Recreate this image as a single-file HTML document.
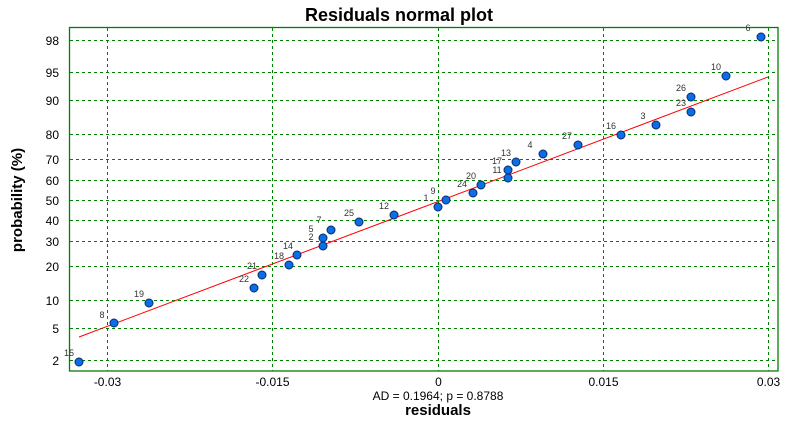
<!DOCTYPE html>
<html><head><style>body{margin:0;background:#fff}svg{display:block}</style></head><body>
<svg width="799" height="423" xmlns="http://www.w3.org/2000/svg" font-family="Liberation Sans, sans-serif">
<rect width="799" height="423" fill="#fff"/>
<text x="399" y="21" font-size="18" font-weight="bold" text-anchor="middle">Residuals normal plot</text>
<g stroke="#008000" stroke-dasharray="3,3" stroke-width="1">
<line x1="70" x2="778" y1="40.5" y2="40.5"/><line x1="70" x2="778" y1="72.5" y2="72.5"/>
<line x1="70" x2="778" y1="100.5" y2="100.5"/><line x1="70" x2="778" y1="134.5" y2="134.5"/>
<line x1="70" x2="778" y1="159.5" y2="159.5"/><line x1="70" x2="778" y1="180.5" y2="180.5"/>
<line x1="70" x2="778" y1="200.5" y2="200.5"/><line x1="70" x2="778" y1="220.5" y2="220.5"/>
<line x1="70" x2="778" y1="241.5" y2="241.5"/><line x1="70" x2="778" y1="266.5" y2="266.5"/>
<line x1="70" x2="778" y1="300.5" y2="300.5"/><line x1="70" x2="778" y1="328.5" y2="328.5"/>
<line x1="70" x2="778" y1="360.5" y2="360.5"/>
<line x1="107.5" x2="107.5" y1="28" y2="371"/><line x1="272.5" x2="272.5" y1="28" y2="371"/>
<line x1="438.5" x2="438.5" y1="28" y2="371"/><line x1="603.5" x2="603.5" y1="28" y2="371"/>
<line x1="768.5" x2="768.5" y1="28" y2="371"/>
</g>
<rect x="69.5" y="27.5" width="708.5" height="343.5" fill="none" stroke="#008000" stroke-width="1.3"/>
<g font-size="12" text-anchor="end">
<text x="59" y="45">98</text><text x="59" y="77">95</text><text x="59" y="105">90</text><text x="59" y="139">80</text>
<text x="59" y="164">70</text><text x="59" y="185">60</text><text x="59" y="205">50</text><text x="59" y="225">40</text>
<text x="59" y="246">30</text><text x="59" y="271">20</text><text x="59" y="305">10</text><text x="59" y="333">5</text><text x="59" y="365">2</text>
</g>
<g font-size="12" text-anchor="middle">
<text x="107.5" y="386">-0.03</text><text x="272.5" y="386">-0.015</text><text x="438.5" y="386">0</text>
<text x="603.5" y="386">0.015</text><text x="768.5" y="386">0.03</text>
<text x="438" y="400">AD = 0.1964; p = 0.8788</text>
</g>
<text x="438" y="415" font-size="15" font-weight="bold" text-anchor="middle">residuals</text>
<text transform="translate(22,200) rotate(-90)" font-size="15" font-weight="bold" text-anchor="middle">probability (%)</text>
<line x1="79" y1="337" x2="768" y2="77" stroke="#ff0000" stroke-width="1"/>
<g fill="#0a6ee6" stroke="#0a2a6a" stroke-width="1">
<circle cx="79" cy="362" r="4"/><circle cx="114" cy="323" r="4"/><circle cx="149" cy="303" r="4"/>
<circle cx="254" cy="288" r="4"/><circle cx="262" cy="275" r="4"/><circle cx="289" cy="265" r="4"/>
<circle cx="297" cy="255" r="4"/><circle cx="323" cy="246" r="4"/><circle cx="323" cy="238" r="4"/>
<circle cx="331" cy="230" r="4"/><circle cx="359" cy="222" r="4"/><circle cx="394" cy="215" r="4"/>
<circle cx="438" cy="207" r="4"/><circle cx="446" cy="200" r="4"/><circle cx="473" cy="193" r="4"/>
<circle cx="481" cy="185" r="4"/><circle cx="508" cy="178" r="4"/><circle cx="508" cy="170" r="4"/>
<circle cx="516" cy="162" r="4"/><circle cx="543" cy="154" r="4"/><circle cx="578" cy="145" r="4"/>
<circle cx="621" cy="135" r="4"/><circle cx="656" cy="125" r="4"/><circle cx="691" cy="112" r="4"/>
<circle cx="691" cy="97" r="4"/><circle cx="726" cy="76" r="4"/><circle cx="761" cy="37" r="4"/>
</g>
<g font-size="9" fill="#333" text-anchor="middle">
<text x="69" y="356">15</text><text x="102" y="318">8</text><text x="139" y="297">19</text>
<text x="244" y="282">22</text><text x="252" y="269">21</text><text x="279" y="259">18</text>
<text x="288" y="249">14</text><text x="311" y="240">2</text><text x="311" y="232">5</text>
<text x="319" y="223">7</text><text x="349" y="216">25</text><text x="384" y="209">12</text>
<text x="426" y="201">1</text><text x="433" y="194">9</text><text x="462" y="187">24</text>
<text x="471" y="179">20</text><text x="497" y="173">11</text><text x="497" y="164">17</text>
<text x="506" y="156">13</text><text x="530" y="148">4</text><text x="567" y="139">27</text>
<text x="611" y="129">16</text><text x="643" y="119">3</text><text x="681" y="106">23</text>
<text x="681" y="91">26</text><text x="716" y="70">10</text><text x="748" y="31">6</text>
</g>
</svg>
</body></html>
